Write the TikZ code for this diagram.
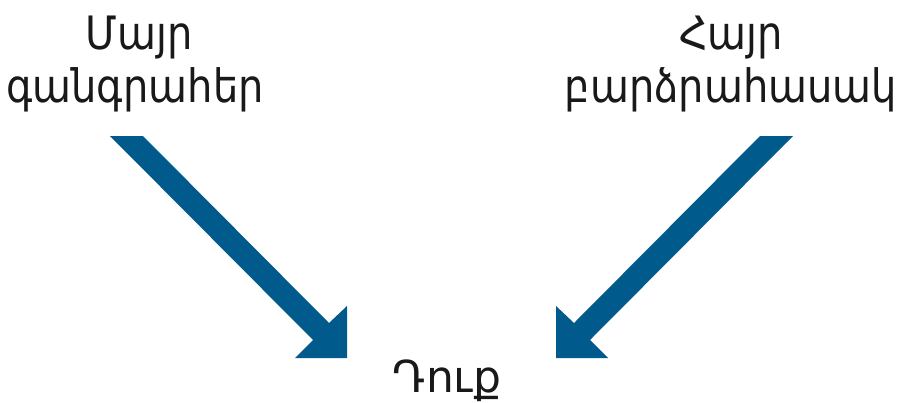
\documentclass[tikz,border=0pt]{standalone}
\usepackage{fontspec}
\setmainfont{DejaVu Sans}
\newfontfamily\narrowarm[FakeStretch=0.87]{DejaVu Sans}
\definecolor{arrowblue}{HTML}{005A8C}
\begin{document}
\begin{tikzpicture}[x=0.5pt,y=-0.5pt,
  lbl/.style={inner sep=0pt,anchor=base,font=\narrowarm\fontsize{23}{27}\selectfont,text=black!90},
  lblyou/.style={inner sep=0pt,anchor=base,font=\fontsize{22}{26}\selectfont,text=black!90},
  blockarrow/.style={fill=arrowblue,draw=none}]
\useasboundingbox (0,0) rectangle (905,402);
% labels
\node[lbl] (m1) at (139,49) {Մայր};
\node[lbl] (m2) at (135,102) {գանգրահեր};
\node[lbl] (f1) at (731,49) {Հայր};
\node[lbl] (f2) at (731,102) {բարձրահասակ};
\node[lblyou] (you) at (447,392) {Դուք};
% left arrow
\coordinate (la1) at (110,136);
\coordinate (la2) at (143,136);
\coordinate (la3) at (329,323);
\coordinate (la4) at (347,306);
\coordinate (la5) at (347,358);
\coordinate (la6) at (295,358);
\coordinate (la7) at (313,340);
\fill[blockarrow] (la1) -- (la2) -- (la3) -- (la4) -- (la5) -- (la6) -- (la7) -- cycle;
% right arrow
\coordinate (ra1) at (793,136);
\coordinate (ra2) at (760,136);
\coordinate (ra3) at (574,323);
\coordinate (ra4) at (556,306);
\coordinate (ra5) at (556,358);
\coordinate (ra6) at (608,358);
\coordinate (ra7) at (590,340);
\fill[blockarrow] (ra1) -- (ra2) -- (ra3) -- (ra4) -- (ra5) -- (ra6) -- (ra7) -- cycle;
\end{tikzpicture}
\end{document}
